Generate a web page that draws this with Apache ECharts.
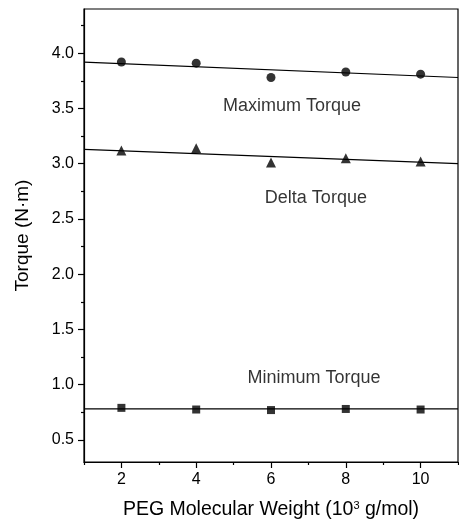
<!DOCTYPE html>
<html>
<head>
<meta charset="utf-8">
<script src="https://cdn.jsdelivr.net/npm/echarts@6/dist/echarts.min.js"></script>
<style>
  html, body { margin: 0; padding: 0; background: #fff; }
  #main { width: 459px; height: 522px; }
</style>
</head>
<body>
<div id="main"></div>
<script>
// PEG molecular weight (10^3 g/mol)
var weights = [2, 4, 6, 8, 10];
var maxTorque = [3.92, 3.91, 3.78, 3.83, 3.81];
var deltaTorque = [3.12, 3.14, 3.01, 3.05, 3.02];
var minTorque = [0.79, 0.775, 0.77, 0.78, 0.775];

// linear fit end points, drawn across the whole x range
var fitX = [1, 11];
var fitMax = [3.92, 3.78];
var fitDelta = [3.13, 3.0];
var fitMin = [0.78, 0.78];

var xTicks = [2, 4, 6, 8, 10];
var xMinorTicks = [1, 3, 5, 7, 9, 11];
var yTicks = [0.5, 1.0, 1.5, 2.0, 2.5, 3.0, 3.5, 4.0];
var yMinorTicks = [0.75, 1.25, 1.75, 2.25, 2.75, 3.25, 3.75, 4.25];

var notes = ['Maximum Torque', 'Delta Torque', 'Minimum Torque'];
var noteX = [6.56, 7.2, 7.15];
var noteY = [3.52, 2.69, 1.06];

var font = 'Liberation Sans, Arial, sans-serif';
var ink = '#000';

function pairs(xs, ys) {
  var out = [];
  for (var i = 0; i < xs.length; i++) out.push([xs[i], ys[i]]);
  return out;
}

var chart = echarts.init(document.getElementById('main'));
var option = {
  animation: false,
  backgroundColor: '#fff',
  grid: { left: 84, top: 9, right: 1, bottom: 60, outerBoundsMode: 'none', containLabel: false,
    show: true, borderColor: ink, borderWidth: 1.2 },
  xAxis: [
    {
      type: 'value', min: 1, max: 11,
      name: 'PEG Molecular Weight (10{s|3} g/mol)',
      nameLocation: 'middle', nameGap: 38,
      nameTextStyle: { fontFamily: font, fontSize: 19.5, color: ink,
        rich: { s: { fontFamily: font, fontSize: 11, color: ink, verticalAlign: 'top', padding: [0, 0, 8, 0] } } },
      axisLine: { show: true, lineStyle: { color: ink, width: 1.2 } },
      axisTick: { show: true, inside: false, length: 6, customValues: xTicks, lineStyle: { color: ink, width: 1.2 } },
      axisLabel: { customValues: xTicks, margin: 10, fontFamily: font, fontSize: 16, color: ink },
      splitLine: { show: false }
    },
    {
      type: 'value', min: 1, max: 11, position: 'bottom',
      axisLine: { show: false },
      axisTick: { show: true, length: 3, customValues: xMinorTicks, lineStyle: { color: ink, width: 1.2 } },
      axisLabel: { show: false },
      splitLine: { show: false }
    }
  ],
  yAxis: [
    {
      type: 'value', min: 0.3, max: 4.4,
      name: 'Torque (N·m)',
      nameLocation: 'middle', nameGap: 52,
      nameTextStyle: { fontFamily: font, fontSize: 19, color: ink },
      axisLine: { show: true, lineStyle: { color: ink, width: 1.2 } },
      axisTick: { show: true, inside: false, length: 6, customValues: yTicks, lineStyle: { color: ink, width: 1.2 } },
      axisLabel: { customValues: yTicks, margin: 10, fontFamily: font, fontSize: 16, color: ink,
        formatter: function (v) { return v.toFixed(1); } },
      splitLine: { show: false }
    },
    {
      type: 'value', min: 0.3, max: 4.4, position: 'left',
      axisLine: { show: false },
      axisTick: { show: true, length: 3, customValues: yMinorTicks, lineStyle: { color: ink, width: 1.2 } },
      axisLabel: { show: false },
      splitLine: { show: false }
    }
  ],
  series: [
    { type: 'line', data: pairs(fitX, fitMax), symbol: 'none', lineStyle: { color: ink, width: 1.2 } },
    { type: 'line', data: pairs(fitX, fitDelta), symbol: 'none', lineStyle: { color: ink, width: 1.2 } },
    { type: 'line', data: pairs(fitX, fitMin), symbol: 'none', lineStyle: { color: ink, width: 1.2 } },
    { type: 'scatter', data: pairs(weights, maxTorque), symbol: 'circle', symbolSize: 9, itemStyle: { color: ink } },
    { type: 'scatter', data: pairs(weights, deltaTorque), symbol: 'triangle', symbolSize: 10, itemStyle: { color: ink } },
    { type: 'scatter', data: pairs(weights, minTorque), symbol: 'rect', symbolSize: 8, itemStyle: { color: ink } },
    {
      type: 'scatter', symbolSize: 0, silent: true,
      data: notes.map(function (t, i) { return { value: [noteX[i], noteY[i]], name: t }; }),
      label: { show: true, position: 'inside', formatter: '{b}', fontFamily: font, fontSize: 18, color: ink }
    }
  ]
};
chart.setOption(option);
</script>
</body>
</html>
